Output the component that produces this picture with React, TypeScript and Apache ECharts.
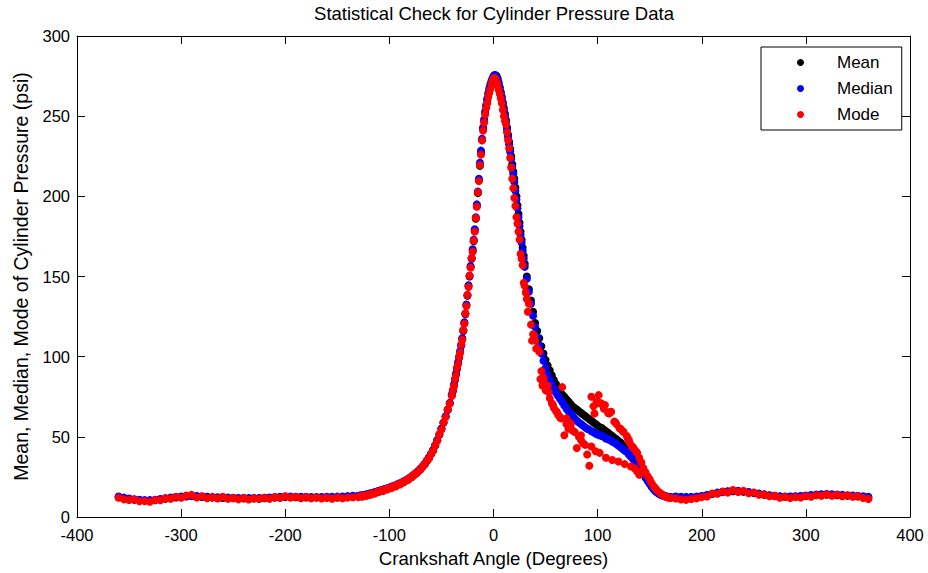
import React, { useEffect, useRef } from "react";
import * as echarts from "echarts";

const FONT = "'Liberation Sans', Arial, Helvetica, sans-serif";

const titleText = "Statistical Check for Cylinder Pressure Data";
const xAxisTitle = "Crankshaft Angle (Degrees)";
const yAxisTitle = "Mean, Median, Mode of Cylinder Pressure (psi)";
const seriesNames = ["Mean", "Median", "Mode"];
const seriesColors = ["#000000", "#0000ff", "#ff0000"];
const xTicks = [-400, -300, -200, -100, 0, 100, 200, 300, 400];
const yTicks = [0, 50, 100, 150, 200, 250, 300];

// crank angle samples (degrees)
const angles = [
  -360, -355, -350, -345, -340, -335, -330, -325, -320, -315, -310, -305, -300, -295, -290, -285, -280, -275, -270, -265, -260, -255, -250, -245, -240, -235, -230, -225, -220, -215, -210, -205, -200, -195, -190, -185, -180, -175, -170, -165, -160, -155, -150, -145, -140, -135,
  -130, -128, -126, -124, -122, -120, -118, -116, -114, -112, -110, -108, -106, -104, -102, -100, -98, -96, -94, -92, -90, -88, -86, -84, -82, -80, -78, -76, -74, -72, -70, -68, -66, -64, -62, -60, -58, -56, -54, -52, -50, -48, -46, -44, -42,
  -40, -39, -38, -37, -36, -35, -34, -33, -32, -31, -30, -29, -28, -27, -26, -25, -24, -23, -22, -21, -20, -19, -18, -17, -16, -15, -14, -13, -12, -11, -10, -9, -8, -7, -6, -5, -4, -3, -2, -1,
  0, 1, 2, 3, 4, 5, 6, 7, 8, 9, 10, 11, 12, 13, 14, 15, 16, 17, 18, 19, 20, 21, 22, 23, 24, 25, 26, 27, 28, 29, 30,
  32, 34, 36, 38, 40, 42, 44, 46, 48, 50, 52, 54, 56, 58, 60, 62, 64, 66, 68, 70, 72, 74, 76, 78, 80, 82, 84, 86, 88, 90, 92, 94, 96, 98, 100, 102, 104, 106, 108, 110, 112, 114, 116, 118, 120, 122, 124, 126, 128, 130, 132, 134, 136, 138, 140, 142, 144, 146, 148, 150, 152, 154, 156, 158, 160, 162, 164, 166, 168, 170,
  175, 180, 185, 190, 195, 200, 205, 210, 215, 220, 225, 230, 235, 240, 245, 250, 255, 260, 265, 270, 275, 280, 285, 290, 295, 300, 305, 310, 315, 320, 325, 330, 335, 340, 345, 350, 355, 360,
];

// mean pressure (psi)
const meanValues = [
  12.5, 11.8, 11.2, 10.8, 10.5, 10.2, 10.2, 10.5, 10.9, 11.4, 11.8, 12.2, 12.5, 12.8, 13.0, 12.8, 12.5, 12.3, 12.1, 12.0, 11.9, 11.8, 11.7, 11.6, 11.5, 11.5, 11.5, 11.6, 11.7, 11.9, 12.1, 12.3, 12.4, 12.4, 12.3, 12.2, 12.2, 12.1, 12.1, 12.1, 12.1, 12.1, 12.2, 12.3, 12.5, 12.7,
  12.9, 13.1, 13.3, 13.5, 13.8, 14.1, 14.5, 14.9, 15.3, 15.7, 16.1, 16.5, 16.9, 17.3, 17.7, 18.1, 18.6, 19.1, 19.6, 20.2, 20.8, 21.4, 22.1, 22.8, 23.6, 24.4, 25.4, 26.4, 27.5, 28.7, 30.0, 31.5, 33.1, 34.9, 36.9, 39.1, 41.6, 44.5, 47.8, 51.3, 55.0, 58.8, 62.7, 66.7, 71.0,
  76, 78.5, 82, 85.5, 89, 92.5, 96, 99.5, 103, 107, 111, 116, 121, 126.5, 132, 138, 144, 150, 156, 161, 166, 172, 178.5, 186, 194, 202, 210, 219, 227, 235, 242, 247, 252, 256, 260, 263.5, 266.5, 269, 271, 273,
  274.5, 275.5, 275.5, 275, 273.5, 271, 268, 265, 262, 258.5, 255, 251.5, 247.5, 243, 238.5, 234, 229.5, 225, 220, 215.5, 211, 205.5, 200, 194.5, 189, 183.5, 178, 173, 168, 163, 158,
  150, 142, 135, 128, 121, 116, 111.5, 106.5, 102, 98, 94.5, 91.5, 88.5, 85.5, 83, 80.5, 78.5, 76.5, 75, 73.5, 72, 70.5, 69, 68, 67, 66, 65, 64, 63, 62, 61, 60, 59, 58, 57, 56, 55.5, 54.5, 53.5, 52.5, 51.5, 50.5, 49.5, 48.5, 47.5, 46.5, 45, 43.5, 42, 40.5, 39, 37.5, 35.5, 33.5, 31.5, 29.5, 27.5, 25.5, 23.5, 21.5, 19.5, 18, 16.5, 15.5, 14.5, 13.8, 13.2, 12.8, 12.6, 12.5,
  12.6, 12.4, 12.3, 12.3, 12.5, 12.9, 13.5, 14.3, 15.0, 15.5, 15.9, 16.1, 16.1, 15.8, 15.4, 14.9, 14.4, 13.9, 13.4, 13.0, 12.7, 12.6, 12.6, 12.7, 12.9, 13.1, 13.4, 13.7, 13.9, 13.9, 13.8, 13.6, 13.4, 13.2, 13.0, 12.8, 12.4, 12.0,
];

// median pressure (psi)
const medianValues = [
  12.8, 12.1, 11.5, 11.1, 10.8, 10.5, 10.5, 10.8, 11.2, 11.7, 12.1, 12.5, 12.8, 13.1, 13.3, 13.1, 12.8, 12.6, 12.4, 12.3, 12.2, 12.1, 12.0, 11.9, 11.8, 11.8, 11.8, 11.9, 12.0, 12.2, 12.4, 12.6, 12.7, 12.7, 12.6, 12.6, 12.6, 12.5, 12.5, 12.5, 12.6, 12.6, 12.7, 12.8, 13.0, 13.2,
  13.3, 13.5, 13.6, 13.8, 14.1, 14.4, 14.8, 15.1, 15.5, 15.9, 16.3, 16.7, 17.1, 17.5, 17.9, 18.3, 18.8, 19.3, 19.8, 20.4, 21.0, 21.6, 22.3, 23.0, 23.8, 24.6, 25.6, 26.6, 27.7, 28.9, 30.2, 31.7, 33.3, 35.1, 37.1, 39.3, 41.8, 44.7, 48.0, 51.5, 55.2, 59.0, 62.9, 66.9, 71.2,
  76.5, 79, 82.5, 86, 89.5, 93, 96.5, 100, 103.5, 107.5, 111.5, 116.5, 121.5, 127, 132.5, 138.5, 144.5, 150.5, 156.5, 161.5, 167, 173, 179.5, 187, 195, 203, 211, 221, 228.5, 236, 243, 248, 253, 257, 261, 264.5, 267.5, 270, 272, 273.5,
  275, 275.5, 275, 274, 272.5, 270, 267, 264, 261, 257.5, 253.5, 250, 246, 241.5, 237, 232.5, 228, 223.5, 218.5, 214, 209, 203.5, 198, 192.5, 187, 181.5, 176, 171, 166, 161, 156,
  148.5, 140.5, 133, 125.5, 118.5, 112.5, 107, 102, 97.5, 93, 89, 85.5, 82.5, 80, 77.5, 75.5, 73.5, 71.5, 69.5, 67.5, 66, 64.5, 63, 61.5, 60, 59, 58, 57, 56, 55, 54.5, 53.5, 53, 52, 51.5, 51, 50.5, 50, 49, 48.5, 48, 47, 46.5, 45.5, 44.5, 43.5, 42.5, 41.5, 40.5, 39, 37.5, 36, 34.5, 32.5, 30.5, 28.5, 26.5, 24.5, 22.5, 20.5, 18.5, 17, 15.8, 14.8, 14, 13.4, 13, 12.7, 12.5, 12.4,
  12.8, 12.6, 12.5, 12.5, 12.7, 13.1, 13.7, 14.5, 15.2, 15.7, 16.1, 16.3, 16.3, 16.0, 15.6, 15.1, 14.6, 14.1, 13.6, 13.2, 12.9, 12.8, 12.8, 12.9, 13.1, 13.4, 13.7, 14.0, 14.2, 14.3, 14.2, 14.0, 13.8, 13.6, 13.4, 13.2, 12.9, 12.6,
];

// mode pressure (psi)
const modeValues = [
  12.0, 11.0, 10.6, 10.9, 9.8, 9.9, 9.5, 10.6, 10.4, 11.7, 11.3, 12.6, 12.0, 13.4, 13.8, 12.2, 12.9, 11.7, 12.4, 11.5, 12.6, 11.3, 11.9, 11.0, 11.8, 10.9, 11.6, 11.2, 12.0, 11.3, 12.5, 11.8, 12.9, 12.1, 12.6, 11.7, 12.4, 11.6, 12.3, 11.5, 12.0, 11.4, 12.2, 11.6, 12.1, 12.3,
  12.4, 13.0, 12.6, 13.4, 13.2, 14.0, 13.9, 14.8, 14.6, 15.5, 15.6, 16.6, 16.2, 17.4, 17.1, 18.3, 18.0, 19.3, 19.0, 20.4, 20.3, 21.5, 21.6, 23.0, 23.1, 24.7, 25.0, 26.8, 27.2, 29.0, 29.6, 31.8, 32.7, 35.2, 36.5, 39.4, 41.2, 44.8, 47.4, 51.6, 54.6, 59.0, 62.3, 67.0, 70.6,
  75.5, 79, 81.5, 86, 88.5, 93, 95.5, 100, 102.5, 107.5, 110.5, 116.5, 120.5, 127, 131.5, 138.5, 143.5, 150.5, 155.5, 161.5, 165.5, 172.5, 178, 186.5, 193.5, 202.5, 209.5, 219.5, 226, 235, 241, 246, 251, 255, 258, 262, 264.5, 267, 270, 272,
  273.5, 274, 273, 271, 269, 266.5, 264, 261, 258, 254, 250, 247, 245, 240, 235, 230, 224, 218, 211, 205, 199, 194, 187, 183, 178, 173, 164, 161, 157, 146, 144,
  136, 133, 120, 114, 110, 105, 103, 91, 87, 79,
  82, 74, 71, 68, 66, 64, 62, 81, 51, 58,
  55, 57, 54, 53, 43, 50, 48, 46, 45, 39,
  32, 44, 69, 41, 71, 40, 70.5, 67.5, 37, 65,
  65.5, 35.5, 59.5, 58, 34.6, 55, 53.5, 33, 50.5, 48,
  31.5, 43.5, 30, 40, 37, 34, 30.5, 28, 25.5, 23.5,
  21, 19, 17.5, 16, 15, 14, 13, 12.5, 12, 11.8,
  11.5, 10.9, 10.7, 11.2, 11.6, 12.4, 12.8, 14.6, 14.5, 15.9, 15.2, 16.8, 15.6, 16.3, 14.8, 15.3, 13.8, 14.1, 12.9, 13.2, 12.0, 12.5, 11.8, 12.4, 12.1, 13.0, 12.6, 13.6, 13.2, 14.1, 13.3, 13.8, 12.9, 13.4, 12.6, 13.0, 11.8, 11.2,
];

// additional mode readings where the mode splits into two branches
const modeExtraAngles = [31, 33, 37, 39, 41, 45, 47, 49, 53, 57, 61, 63, 65, 70, 74, 84, 94, 97, 99, 101, 103, 107, 111, 113, 117, 121, 125, 129, 131, 133, 135, 137, 138, 140];
const modeExtraValues = [140, 128, 110, 113, 105, 86, 82, 83.5, 78, 70, 65.5, 63, 61.5, 61.5, 58.5, 51, 75, 64.6, 72, 76, 71, 69.8, 64.6, 65.6, 59, 55.3, 53, 49, 46, 44, 42.5, 40.8, 28.4, 26.3];

function pairs(xs: number[], ys: number[]) {
  const out: number[][] = [];
  const n = Math.min(xs.length, ys.length);
  for (let i = 0; i < n; i++) out.push([xs[i], ys[i]]);
  return out;
}

export default function App() {
  const ref = useRef<HTMLDivElement>(null);

  useEffect(() => {
    if (!ref.current) return;
    const chart = echarts.init(ref.current, undefined, { renderer: "svg" });

    const modeData = pairs(angles, modeValues).concat(pairs(modeExtraAngles, modeExtraValues));
    const dataSets = [pairs(angles, meanValues), pairs(angles, medianValues), modeData];

    const axisLineStyle = { color: "#000", width: 1 };
    const baseX = {
      type: "value",
      min: xTicks[0],
      max: xTicks[xTicks.length - 1],
      interval: 100,
      splitLine: { show: false },
      axisLine: { show: true, onZero: false, lineStyle: axisLineStyle },
      axisTick: { show: true, inside: true, length: 8, lineStyle: axisLineStyle },
    };
    const baseY = {
      type: "value",
      min: yTicks[0],
      max: yTicks[yTicks.length - 1],
      interval: 50,
      splitLine: { show: false },
      axisLine: { show: true, onZero: false, lineStyle: axisLineStyle },
      axisTick: { show: true, inside: true, length: 8, lineStyle: axisLineStyle },
    };

    const option: any = {
      animation: false,
      backgroundColor: "#ffffff",
      textStyle: { fontFamily: FONT },
      title: {
        text: titleText,
        left: 494,
        top: 4,
        padding: 0,
        textAlign: "center",
        textStyle: { fontFamily: FONT, fontSize: 18.5, fontWeight: "normal", color: "#000" },
      },
      legend: {
        data: seriesNames,
        orient: "vertical",
        left: 761,
        top: 47,
        icon: "circle",
        itemWidth: 63,
        itemHeight: 7,
        itemGap: 9,
        padding: [7, 9, 7, 36],
        borderColor: "#000",
        borderWidth: 1,
        backgroundColor: "#fff",
        selectedMode: false,
        textStyle: { fontFamily: FONT, fontSize: 17, color: "#000" },
      },
      grid: { left: 77, top: 36, right: 18, bottom: 54, containLabel: false },
      xAxis: [
        {
          ...baseX,
          position: "bottom",
          name: xAxisTitle,
          nameLocation: "middle",
          nameGap: 32,
          nameTextStyle: { fontFamily: FONT, fontSize: 18.6, color: "#000" },
          axisLabel: { show: true, margin: 9, color: "#000", fontFamily: FONT, fontSize: 16.5 },
        },
        { ...baseX, position: "top", axisLabel: { show: false } },
      ],
      yAxis: [
        {
          ...baseY,
          position: "left",
          name: yAxisTitle,
          nameLocation: "middle",
          nameGap: 46,
          nameTextStyle: { fontFamily: FONT, fontSize: 19.5, color: "#000" },
          axisLabel: { show: true, margin: 7, color: "#000", fontFamily: FONT, fontSize: 16.5 },
        },
        { ...baseY, position: "right", axisLabel: { show: false } },
      ],
      series: seriesNames.map((name, i) => ({
        name,
        type: "scatter",
        xAxisIndex: 0,
        yAxisIndex: 0,
        symbol: "circle",
        symbolSize: 8,
        itemStyle: { color: seriesColors[i], opacity: 1 },
        emphasis: { disabled: true },
        silent: true,
        data: dataSets[i],
      })),
    };

    chart.setOption(option);
    return () => chart.dispose();
  }, []);

  return (
    <div
      ref={ref}
      style={{ position: "fixed", left: 0, top: 0, width: 928, height: 573, background: "#fff" }}
    />
  );
}
